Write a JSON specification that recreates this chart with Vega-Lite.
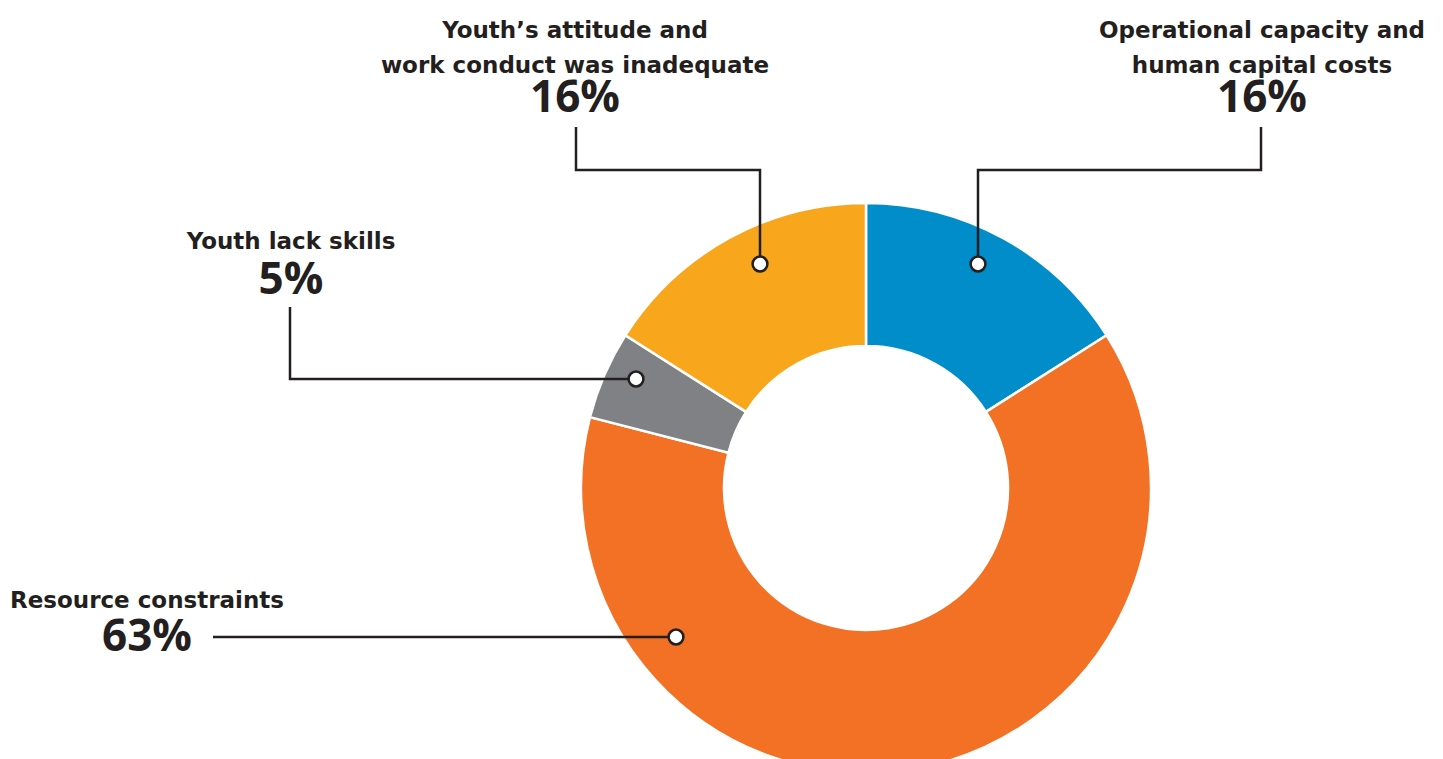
{
  "$schema": "https://vega.github.io/schema/vega-lite/v6.json",
  "width": 1443,
  "height": 759,
  "padding": 0,
  "autosize": {"type": "none"},
  "background": "white",
  "config": {"view": {"stroke": null}},
  "datasets": {
    "slices": [
      {"category": "Operational capacity and human capital costs", "pct": 16, "order": 1},
      {"category": "Resource constraints", "pct": 63, "order": 2},
      {"category": "Youth lack skills", "pct": 5, "order": 3},
      {"category": "Youth’s attitude and work conduct was inadequate", "pct": 16, "order": 4}
    ],
    "leaders": [
      {"category": "Operational", "step": 1, "x": 112, "y": 224},
      {"category": "Operational", "step": 2, "x": 112, "y": 318},
      {"category": "Operational", "step": 3, "x": 395, "y": 318},
      {"category": "Operational", "step": 4, "x": 395, "y": 361},
      {"category": "Attitude", "step": 1, "x": -106, "y": 224},
      {"category": "Attitude", "step": 2, "x": -106, "y": 318},
      {"category": "Attitude", "step": 3, "x": -290, "y": 318},
      {"category": "Attitude", "step": 4, "x": -290, "y": 361},
      {"category": "Skills", "step": 1, "x": -230, "y": 109},
      {"category": "Skills", "step": 2, "x": -576, "y": 109},
      {"category": "Skills", "step": 3, "x": -576, "y": 181},
      {"category": "Resource", "step": 1, "x": -190, "y": -149},
      {"category": "Resource", "step": 2, "x": -653, "y": -149}
    ],
    "dots": [
      {"category": "Operational", "x": 112, "y": 224},
      {"category": "Attitude", "x": -106, "y": 224},
      {"category": "Skills", "x": -230, "y": 109},
      {"category": "Resource", "x": -190, "y": -149}
    ],
    "labels": [
      {"label": ["Operational capacity and", "human capital costs"], "pct": "16%", "x": 396, "y": 450, "py": 376},
      {"label": ["Youth’s attitude and", "work conduct was inadequate"], "pct": "16%", "x": -291, "y": 450, "py": 376},
      {"label": ["Youth lack skills"], "pct": "5%", "x": -575, "y": 239, "py": 194},
      {"label": ["Resource constraints"], "pct": "63%", "x": -719, "y": -120, "py": -163}
    ]
  },
  "layer": [
    {
      "data": {"name": "slices"},
      "mark": {"type": "arc", "outerRadius": 285, "innerRadius": 142, "stroke": "white", "strokeWidth": 2.5},
      "encoding": {
        "x": {"datum": 0, "type": "quantitative", "scale": {"domain": [-866, 577], "nice": false, "zero": false}, "axis": null},
        "y": {"datum": 0, "type": "quantitative", "scale": {"domain": [-271, 488], "nice": false, "zero": false}, "axis": null},
        "theta": {"field": "pct", "type": "quantitative", "stack": true},
        "order": {"field": "order", "type": "quantitative"},
        "color": {
          "field": "category", "type": "nominal", "legend": null,
          "scale": {
            "domain": ["Operational capacity and human capital costs", "Resource constraints", "Youth lack skills", "Youth’s attitude and work conduct was inadequate"],
            "range": ["#008dc9", "#f37124", "#808184", "#f8a71d"]
          }
        }
      }
    },
    {
      "data": {"name": "leaders"},
      "mark": {"type": "line", "color": "#231f20", "strokeWidth": 2.5, "strokeCap": "butt", "strokeJoin": "miter"},
      "encoding": {
        "x": {"field": "x", "type": "quantitative", "scale": {"domain": [-866, 577], "nice": false, "zero": false}, "axis": null},
        "y": {"field": "y", "type": "quantitative", "scale": {"domain": [-271, 488], "nice": false, "zero": false}, "axis": null},
        "detail": {"field": "category"},
        "order": {"field": "step", "type": "quantitative"}
      }
    },
    {
      "data": {"name": "dots"},
      "mark": {"type": "point", "shape": "circle", "filled": true, "fill": "white", "stroke": "#231f20", "strokeWidth": 2.5, "size": 220, "opacity": 1},
      "encoding": {
        "x": {"field": "x", "type": "quantitative", "scale": {"domain": [-866, 577], "nice": false, "zero": false}, "axis": null},
        "y": {"field": "y", "type": "quantitative", "scale": {"domain": [-271, 488], "nice": false, "zero": false}, "axis": null}
      }
    },
    {
      "data": {"name": "labels"},
      "mark": {"type": "text", "font": "DejaVu Sans", "fontWeight": "bold", "fontSize": 23, "lineHeight": 35, "align": "center", "baseline": "alphabetic", "color": "#231f20"},
      "encoding": {
        "x": {"field": "x", "type": "quantitative", "scale": {"domain": [-866, 577], "nice": false, "zero": false}, "axis": null},
        "y": {"field": "y", "type": "quantitative", "scale": {"domain": [-271, 488], "nice": false, "zero": false}, "axis": null},
        "text": {"field": "label"}
      }
    },
    {
      "data": {"name": "labels"},
      "mark": {"type": "text", "font": "Open Sans", "fontWeight": "bold", "fontSize": 44, "align": "center", "baseline": "alphabetic", "color": "#231f20"},
      "encoding": {
        "x": {"field": "x", "type": "quantitative", "scale": {"domain": [-866, 577], "nice": false, "zero": false}, "axis": null},
        "y": {"field": "py", "type": "quantitative", "scale": {"domain": [-271, 488], "nice": false, "zero": false}, "axis": null},
        "text": {"field": "pct"}
      }
    }
  ]
}
